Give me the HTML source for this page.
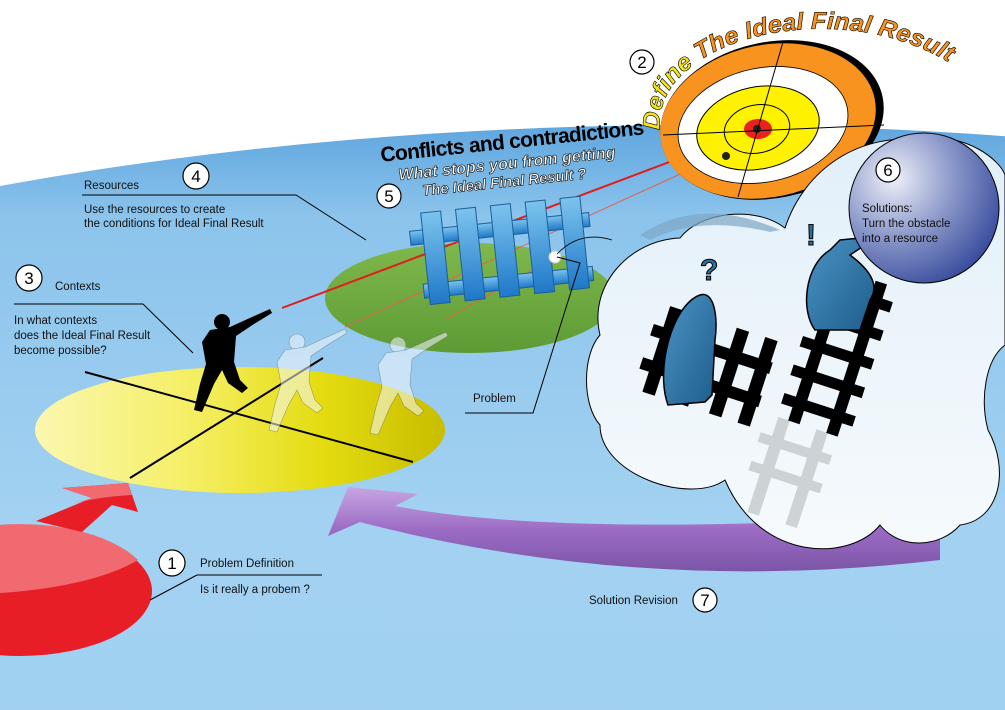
<!DOCTYPE html>
<html><head><meta charset="utf-8"><style>
html,body{margin:0;padding:0;background:#fff;overflow:hidden;width:1005px;height:710px}
svg{display:block;overflow:hidden}
text{font-family:"Liberation Sans",sans-serif}
</style></head><body>
<svg width="1005" height="710" viewBox="0 0 1005 710" xmlns="http://www.w3.org/2000/svg">
<defs>
<linearGradient id="bg" x1="0" y1="0" x2="0" y2="1">
<stop offset="0" stop-color="#5fa6de"/><stop offset="0.06" stop-color="#8cc4ec"/><stop offset="0.25" stop-color="#a2d1f1"/><stop offset="1" stop-color="#9ccff0"/></linearGradient>
<radialGradient id="sph" cx="0.3" cy="0.3" r="0.8"><stop offset="0" stop-color="#eef0f8"/><stop offset="0.5" stop-color="#8a97c9"/><stop offset="1" stop-color="#34489a"/></radialGradient>
<linearGradient id="cloud" x1="0" y1="0" x2="0" y2="1"><stop offset="0" stop-color="#e2eff9"/><stop offset="0.6" stop-color="#eef6fb"/><stop offset="1" stop-color="#f6fafd"/></linearGradient>
<linearGradient id="yel" x1="0" y1="0" x2="1" y2="0"><stop offset="0" stop-color="#fbf7b0"/><stop offset="0.4" stop-color="#f4ee60"/><stop offset="0.7" stop-color="#e4dc10"/><stop offset="1" stop-color="#c8bd00"/></linearGradient>
<linearGradient id="grn" x1="0" y1="0" x2="0" y2="1"><stop offset="0" stop-color="#7fb84c"/><stop offset="1" stop-color="#5e9b35"/></linearGradient>
<linearGradient id="pur" x1="0" y1="0" x2="0" y2="1"><stop offset="0" stop-color="#c7a6e2"/><stop offset="0.5" stop-color="#9c6cc4"/><stop offset="1" stop-color="#7b55a8"/></linearGradient>
<linearGradient id="fen" x1="0" y1="0" x2="0" y2="1"><stop offset="0" stop-color="#7cc4ee"/><stop offset="1" stop-color="#1f78c8"/></linearGradient>
<linearGradient id="fig" x1="0" y1="0" x2="1" y2="1"><stop offset="0" stop-color="#4a94c4"/><stop offset="1" stop-color="#1e5d8c"/></linearGradient>
<g id="shooter">
<circle cx="0" cy="0" r="8"/>
<path d="M-12,8 L8,5 L30,-5 L48,-13 L50,-9 L32,2 L14,14 L12,40 L18,58 L26,66 L20,71 L6,61 L0,48 L-8,62 L-20,90 L-28,88 L-22,62 L-16,42 L-20,20 Z"/>
</g>
</defs>

<rect width="1005" height="710" fill="#fff"/>
<ellipse cx="700" cy="900" rx="1800" ry="775" fill="url(#bg)"/>

<!-- red ellipse -->
<ellipse cx="20" cy="591" rx="132" ry="65" fill="#e81e26"/>
<path d="M-112,591 A132,65 0 0 1 138,560 Q70,600 -112,595 Z" fill="#f06a70"/>
<path d="M36,521 L82,532 L112,505 L138,512 L128,483 L62,488 L92,498 Z" fill="#e81e26"/>
<path d="M62,488 L128,483 L132,495 Q95,497 70,505 L92,498 Z" fill="#f06a70"/>
<line x1="150" y1="600" x2="197" y2="575" stroke="#000" stroke-width="1"/>
<line x1="197" y1="575" x2="322" y2="575" stroke="#000" stroke-width="1"/>

<!-- yellow ellipse -->
<ellipse cx="240" cy="430" rx="205" ry="63" fill="url(#yel)"/>
<line x1="85" y1="372" x2="413" y2="462" stroke="#000" stroke-width="2"/>
<line x1="323" y1="358" x2="130" y2="478" stroke="#000" stroke-width="2"/>

<!-- green ellipse -->
<ellipse cx="470" cy="298" rx="145" ry="55" fill="url(#grn)"/>

<!-- lasers -->
<line x1="282" y1="308" x2="757" y2="129" stroke="#e21b1b" stroke-width="2"/>
<line x1="345" y1="327" x2="722" y2="155" stroke="#e36050" stroke-width="1"/>
<line x1="445" y1="320" x2="555" y2="257" stroke="#e36050" stroke-width="1"/>

<!-- fence -->
<g transform="rotate(-6 500 250)">
<g fill="url(#fen)" stroke="#1b5f9c" stroke-width="1">
<rect x="412" y="222" width="180" height="14"/>
<rect x="420" y="276" width="170" height="14"/>
<rect x="425" y="205" width="20" height="92"/>
<rect x="460" y="205" width="20" height="92"/>
<rect x="495" y="205" width="20" height="92"/>
<rect x="530" y="205" width="20" height="92"/>
<rect x="565" y="205" width="20" height="92"/>
</g></g>
<circle cx="555" cy="257" r="6" fill="#fff" stroke="#ccc"/>

<!-- shooters -->
<g fill="#000"><use href="#shooter" x="222" y="322"/></g>
<g fill="#f4f8fc" opacity="0.55" stroke="#666" stroke-width="0.6"><use href="#shooter" x="297" y="342"/><use href="#shooter" x="398" y="345"/></g>

<!-- purple arrow -->
<path d="M328,536 L348,487 L418,494 L395,506 Q560,538 940,515 L940,560 Q640,595 360,522 Z" fill="url(#pur)"/>

<!-- target -->
<g>
<ellipse cx="772" cy="120" rx="113" ry="78" transform="rotate(-12 772 120)" fill="#000"/>
<ellipse cx="768" cy="121" rx="109" ry="76" transform="rotate(-12 768 121)" fill="#f7931e"/>
<ellipse cx="763" cy="125" rx="86" ry="57" transform="rotate(-12 763 125)" fill="#fff" stroke="#000" stroke-width="0.8"/>
<ellipse cx="758" cy="128" rx="62" ry="41" transform="rotate(-12 758 128)" fill="#fff200" stroke="#000" stroke-width="1"/>
<ellipse cx="757" cy="129" rx="33" ry="24" transform="rotate(-12 757 129)" fill="none" stroke="#000" stroke-width="1"/>
<ellipse cx="758" cy="129" rx="14" ry="10" fill="#e8231f"/>
<circle cx="757" cy="129" r="4" fill="#222"/>
<circle cx="726" cy="156" r="4" fill="#222"/>
<line x1="783" y1="42" x2="738" y2="197" stroke="#000" stroke-width="1"/>
<line x1="663" y1="135" x2="884" y2="125" stroke="#000" stroke-width="1"/>
</g>
<path id="arc" d="M660,130 C650,30 880,-20 990,95" fill="none"/>
<text font-size="24" font-weight="bold" font-style="italic" fill="#f7931e" stroke="#000" stroke-width="0.6"><textPath href="#arc" textLength="345" lengthAdjust="spacingAndGlyphs"><tspan fill="#f5e21a">Define</tspan> The Ideal Final Result</textPath></text>

<!-- cloud -->
<path d="M600,335 C588,285 630,240 680,238 C700,212 755,205 785,228 C805,168 860,132 925,140 C965,132 1000,160 1005,175 L1005,345 C985,360 980,400 988,430 C1010,470 1000,520 960,525 C940,548 900,550 880,525 C850,562 760,562 725,480 C690,505 600,475 600,425 C582,405 582,355 600,335 Z" fill="url(#cloud)" stroke="#000" stroke-width="1"/>
<path d="M640,235 Q700,195 780,230 L770,232 Q700,215 650,240 Z" fill="#7ea6c4" opacity="0.7"/>
<path d="M557,254 Q580,230 612,240" fill="none" stroke="#000" stroke-width="0.8"/>

<!-- figures in cloud -->
<g fill="#000">
<g transform="rotate(18 700 360)">
<rect x="645" y="340" width="125" height="12"/><rect x="645" y="375" width="125" height="12"/>
<rect x="655" y="318" width="13" height="90"/><rect x="690" y="318" width="13" height="90"/><rect x="725" y="318" width="13" height="90"/><rect x="755" y="318" width="13" height="90"/>
</g>
<g transform="rotate(18 830 350)">
<rect x="812" y="270" width="12" height="160"/><rect x="852" y="270" width="12" height="160"/>
<rect x="800" y="285" width="75" height="11"/><rect x="800" y="315" width="75" height="11"/><rect x="800" y="345" width="75" height="11"/><rect x="800" y="375" width="75" height="11"/><rect x="800" y="405" width="75" height="11"/>
</g>
</g>
<g fill="#000" opacity="0.15">
<g transform="rotate(18 780 470)"><rect x="762" y="420" width="12" height="100"/><rect x="802" y="420" width="12" height="100"/><rect x="750" y="440" width="75" height="10"/><rect x="750" y="470" width="75" height="10"/></g>
</g>
<path d="M668,405 C655,370 672,305 700,295 C715,290 718,320 715,340 L712,395 L705,402 Z" fill="url(#fig)" stroke="#000" stroke-width="1.5"/>
<path d="M815,330 C800,310 805,265 830,250 L840,240 L860,238 L865,245 L850,255 C870,270 880,285 870,300 L860,330 Z" fill="url(#fig)" stroke="#000" stroke-width="1.5"/>
<text x="700" y="280" font-size="30" font-weight="bold" fill="#2a6f9e" stroke="#000" stroke-width="1">?</text>
<text x="806" y="245" font-size="30" font-weight="bold" fill="#2a6f9e" stroke="#000" stroke-width="1">!</text>

<!-- sphere -->
<circle cx="924" cy="208" r="75" fill="url(#sph)" stroke="#000" stroke-width="1"/>

<!-- headline -->
<g transform="rotate(-6 380 150)">
<text x="380" y="162" font-size="21" font-weight="bold" fill="#000" textLength="265">Conflicts and contradictions</text>
</g>
<g transform="rotate(-6 400 170)" font-weight="bold" font-style="italic" fill="#fff" stroke="#222" stroke-width="0.7">
<text x="398" y="180" font-size="16" textLength="218">What stops you from getting</text>
<text x="420" y="198" font-size="15" textLength="165">The Ideal Final Result ?</text>
</g>

<!-- labels -->
<g font-size="11.5" fill="#111">
<text x="84" y="189">Resources</text>
<text x="84" y="213">Use the resources to create</text>
<text x="84" y="227">the conditions for Ideal Final Result</text>
<text x="55" y="290">Contexts</text>
<text x="14" y="324">In what contexts</text>
<text x="14" y="339">does the Ideal Final Result</text>
<text x="14" y="354">become possible?</text>
<text x="473" y="402">Problem</text>
<text x="200" y="567">Problem Definition</text>
<text x="200" y="593">Is it really a probem ?</text>
<text x="589" y="604">Solution Revision</text>
<text x="862" y="212">Solutions:</text>
<text x="862" y="227">Turn the obstacle</text>
<text x="862" y="242">into a resource</text>
</g>
<g stroke="#000" stroke-width="1" fill="none">
<polyline points="82,195 296,195 366,240"/>
<polyline points="14,304 143,304 193,353"/>
<polyline points="465,413 533,413 580,263 557,257"/>
</g>

<!-- number circles -->
<g fill="#fff" stroke="#000" stroke-width="1.2">
<circle cx="172" cy="563" r="13"/><circle cx="642" cy="62" r="12"/><circle cx="29" cy="278" r="13"/>
<circle cx="196" cy="176" r="13"/><circle cx="389" cy="196" r="12"/><circle cx="888" cy="170" r="12"/><circle cx="705" cy="600" r="12"/>
</g>
<g font-size="17" text-anchor="middle" fill="#000">
<text x="172" y="569">1</text><text x="642" y="68">2</text><text x="29" y="284">3</text><text x="196" y="182">4</text><text x="389" y="202">5</text><text x="888" y="176">6</text><text x="705" y="606">7</text>
</g>
</svg>
</body></html>
